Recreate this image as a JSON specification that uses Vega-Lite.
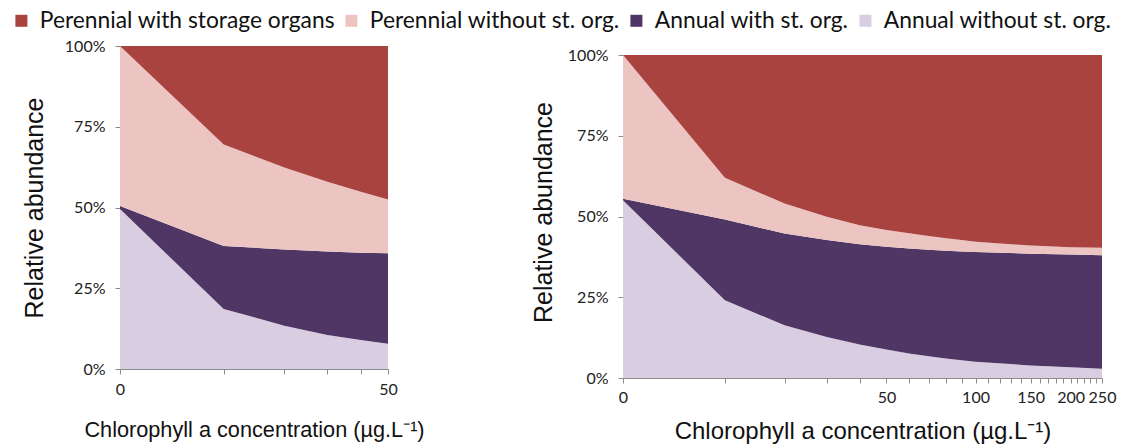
{
  "$schema": "https://vega.github.io/schema/vega-lite/v6.json",
  "padding": {"left": 10, "top": 9, "right": 5, "bottom": 5},
  "background": "white",
  "datasets": {
    "left": [
      {"x": 0, "g": "Annual without st. org.", "k": 1, "v": 49.5},
      {"x": 0, "g": "Annual with st. org.", "k": 2, "v": 1.0},
      {"x": 0, "g": "Perennial without st. org.", "k": 3, "v": 49.5},
      {"x": 0, "g": "Perennial with storage organs", "k": 4, "v": 0.0},
      {"x": 10, "g": "Annual without st. org.", "k": 1, "v": 18.6},
      {"x": 10, "g": "Annual with st. org.", "k": 2, "v": 19.5},
      {"x": 10, "g": "Perennial without st. org.", "k": 3, "v": 31.4},
      {"x": 10, "g": "Perennial with storage organs", "k": 4, "v": 30.5},
      {"x": 20, "g": "Annual without st. org.", "k": 1, "v": 13.4},
      {"x": 20, "g": "Annual with st. org.", "k": 2, "v": 23.6},
      {"x": 20, "g": "Perennial without st. org.", "k": 3, "v": 25.4},
      {"x": 20, "g": "Perennial with storage organs", "k": 4, "v": 37.6},
      {"x": 30, "g": "Annual without st. org.", "k": 1, "v": 10.5},
      {"x": 30, "g": "Annual with st. org.", "k": 2, "v": 25.9},
      {"x": 30, "g": "Perennial without st. org.", "k": 3, "v": 21.6},
      {"x": 30, "g": "Perennial with storage organs", "k": 4, "v": 42.0},
      {"x": 40, "g": "Annual without st. org.", "k": 1, "v": 9.0},
      {"x": 40, "g": "Annual with st. org.", "k": 2, "v": 27.0},
      {"x": 40, "g": "Perennial without st. org.", "k": 3, "v": 18.9},
      {"x": 40, "g": "Perennial with storage organs", "k": 4, "v": 45.1},
      {"x": 50, "g": "Annual without st. org.", "k": 1, "v": 7.8},
      {"x": 50, "g": "Annual with st. org.", "k": 2, "v": 28.0},
      {"x": 50, "g": "Perennial without st. org.", "k": 3, "v": 16.7},
      {"x": 50, "g": "Perennial with storage organs", "k": 4, "v": 47.5}
    ],
    "right": [
      {"x": 0, "g": "Annual without st. org.", "k": 1, "v": 55.0},
      {"x": 0, "g": "Annual with st. org.", "k": 2, "v": 0.5},
      {"x": 0, "g": "Perennial without st. org.", "k": 3, "v": 44.5},
      {"x": 0, "g": "Perennial with storage organs", "k": 4, "v": 0.0},
      {"x": 10, "g": "Annual without st. org.", "k": 1, "v": 24.1},
      {"x": 10, "g": "Annual with st. org.", "k": 2, "v": 25.0},
      {"x": 10, "g": "Perennial without st. org.", "k": 3, "v": 12.9},
      {"x": 10, "g": "Perennial with storage organs", "k": 4, "v": 38.0},
      {"x": 20, "g": "Annual without st. org.", "k": 1, "v": 16.3},
      {"x": 20, "g": "Annual with st. org.", "k": 2, "v": 28.4},
      {"x": 20, "g": "Perennial without st. org.", "k": 3, "v": 9.3},
      {"x": 20, "g": "Perennial with storage organs", "k": 4, "v": 46.0},
      {"x": 30, "g": "Annual without st. org.", "k": 1, "v": 12.7},
      {"x": 30, "g": "Annual with st. org.", "k": 2, "v": 30.0},
      {"x": 30, "g": "Perennial without st. org.", "k": 3, "v": 7.2},
      {"x": 30, "g": "Perennial with storage organs", "k": 4, "v": 50.1},
      {"x": 40, "g": "Annual without st. org.", "k": 1, "v": 10.4},
      {"x": 40, "g": "Annual with st. org.", "k": 2, "v": 31.0},
      {"x": 40, "g": "Perennial without st. org.", "k": 3, "v": 5.9},
      {"x": 40, "g": "Perennial with storage organs", "k": 4, "v": 52.7},
      {"x": 50, "g": "Annual without st. org.", "k": 1, "v": 8.8},
      {"x": 50, "g": "Annual with st. org.", "k": 2, "v": 31.8},
      {"x": 50, "g": "Perennial without st. org.", "k": 3, "v": 5.2},
      {"x": 50, "g": "Perennial with storage organs", "k": 4, "v": 54.2},
      {"x": 60, "g": "Annual without st. org.", "k": 1, "v": 7.6},
      {"x": 60, "g": "Annual with st. org.", "k": 2, "v": 32.5},
      {"x": 60, "g": "Perennial without st. org.", "k": 3, "v": 4.7},
      {"x": 60, "g": "Perennial with storage organs", "k": 4, "v": 55.2},
      {"x": 70, "g": "Annual without st. org.", "k": 1, "v": 6.7},
      {"x": 70, "g": "Annual with st. org.", "k": 2, "v": 33.0},
      {"x": 70, "g": "Perennial without st. org.", "k": 3, "v": 4.3},
      {"x": 70, "g": "Perennial with storage organs", "k": 4, "v": 56.0},
      {"x": 80, "g": "Annual without st. org.", "k": 1, "v": 6.0},
      {"x": 80, "g": "Annual with st. org.", "k": 2, "v": 33.4},
      {"x": 80, "g": "Perennial without st. org.", "k": 3, "v": 3.9},
      {"x": 80, "g": "Perennial with storage organs", "k": 4, "v": 56.7},
      {"x": 90, "g": "Annual without st. org.", "k": 1, "v": 5.5},
      {"x": 90, "g": "Annual with st. org.", "k": 2, "v": 33.7},
      {"x": 90, "g": "Perennial without st. org.", "k": 3, "v": 3.5},
      {"x": 90, "g": "Perennial with storage organs", "k": 4, "v": 57.3},
      {"x": 100, "g": "Annual without st. org.", "k": 1, "v": 5.0},
      {"x": 100, "g": "Annual with st. org.", "k": 2, "v": 34.0},
      {"x": 100, "g": "Perennial without st. org.", "k": 3, "v": 3.2},
      {"x": 100, "g": "Perennial with storage organs", "k": 4, "v": 57.8},
      {"x": 150, "g": "Annual without st. org.", "k": 1, "v": 3.9},
      {"x": 150, "g": "Annual with st. org.", "k": 2, "v": 34.6},
      {"x": 150, "g": "Perennial without st. org.", "k": 3, "v": 2.5},
      {"x": 150, "g": "Perennial with storage organs", "k": 4, "v": 59.0},
      {"x": 200, "g": "Annual without st. org.", "k": 1, "v": 3.3},
      {"x": 200, "g": "Annual with st. org.", "k": 2, "v": 34.9},
      {"x": 200, "g": "Perennial without st. org.", "k": 3, "v": 2.3},
      {"x": 200, "g": "Perennial with storage organs", "k": 4, "v": 59.5},
      {"x": 250, "g": "Annual without st. org.", "k": 1, "v": 2.9},
      {"x": 250, "g": "Annual with st. org.", "k": 2, "v": 35.1},
      {"x": 250, "g": "Perennial without st. org.", "k": 3, "v": 2.3},
      {"x": 250, "g": "Perennial with storage organs", "k": 4, "v": 59.7}
    ]
  },
  "config": {
    "view": {"stroke": null},
    "axis": {
      "grid": false,
      "domainColor": "#8c8c8c",
      "tickColor": "#8c8c8c",
      "tickSize": 5,
      "labelFont": "Lato",
      "labelFontSize": 16,
      "labelColor": "#222222",
      "titleFont": "Liberation Sans",
      "titleFontWeight": "normal",
      "titleColor": "#111111"
    },
    "legend": {
      "direction": "horizontal",
      "title": null,
      "symbolType": "square",
      "symbolSize": 144,
      "symbolStrokeWidth": 0,
      "labelFont": "Lato",
      "labelFontSize": 22.8,
      "labelColor": "#111111",
      "labelOffset": 7,
      "columnPadding": 5,
      "labelLimit": 400
    }
  },
  "bounds": "flush",
  "spacing": 235,
  "hconcat": [
    {
      "width": 268,
      "height": 323,
      "data": {"name": "left"},
      "mark": {"type": "area", "interpolate": "linear"},
      "encoding": {
        "x": {
          "field": "x", "type": "quantitative",
          "scale": {"type": "symlog", "constant": 10, "domain": [0, 50], "nice": false},
          "axis": {
            "values": [0, 10, 20, 30, 40, 50],
            "labelExpr": "datum.value == 0 || datum.value == 50 ? datum.label : ''",
            "labelFlush": false,
            "labelOverlap": false,
            "labelPadding": 7,
            "title": "Chlorophyll a concentration (µg.L⁻¹)",
            "titleFontSize": 21.7,
            "titlePadding": 22
          }
        },
        "y": {
          "field": "v", "type": "quantitative", "stack": "normalize",
          "scale": {"domain": [0, 1], "nice": false},
          "axis": {
            "values": [0, 0.25, 0.5, 0.75, 1],
            "format": ".0%",
            "labelPadding": 10,
            "title": "Relative abundance",
            "titleFontSize": 25,
            "titlePadding": 17
          }
        },
        "color": {
          "field": "g", "type": "nominal",
          "scale": {
            "domain": ["Perennial with storage organs", "Perennial without st. org.", "Annual with st. org.", "Annual without st. org."],
            "range": ["#a8433f", "#ecc5c3", "#4f3664", "#d9cde2"]
          },
          "legend": {"orient": "none", "legendX": -110, "legendY": -37}
        },
        "order": {"field": "k", "type": "quantitative"}
      }
    },
    {
      "width": 479,
      "height": 332,
      "data": {"name": "right"},
      "mark": {"type": "area", "interpolate": "linear"},
      "encoding": {
        "x": {
          "field": "x", "type": "quantitative",
          "scale": {"type": "symlog", "constant": 10, "domain": [0, 250], "nice": false},
          "axis": {
            "values": [0, 10, 20, 30, 40, 50, 60, 70, 80, 90, 100, 110, 120, 130, 140, 150, 160, 170, 180, 190, 200, 210, 220, 230, 240, 250],
            "labelExpr": "indexof([0, 50, 100, 150, 200, 250], datum.value) >= 0 ? datum.label : ''",
            "labelFlush": false,
            "labelOverlap": false,
            "labelPadding": 6,
            "title": "Chlorophyll a concentration (µg.L⁻¹)",
            "titleFontSize": 24,
            "titlePadding": 14
          }
        },
        "y": {
          "field": "v", "type": "quantitative", "stack": "normalize",
          "scale": {"domain": [0, 1.0279], "nice": false},
          "axis": {
            "values": [0, 0.25, 0.5, 0.75, 1],
            "format": ".0%",
            "domain": false,
            "labelPadding": 10,
            "title": "Relative abundance",
            "titleFontSize": 25,
            "titlePadding": 11
          }
        },
        "color": {
          "field": "g", "type": "nominal",
          "scale": {
            "domain": ["Perennial with storage organs", "Perennial without st. org.", "Annual with st. org.", "Annual without st. org."],
            "range": ["#a8433f", "#ecc5c3", "#4f3664", "#d9cde2"]
          },
          "legend": {"orient": "none", "legendX": -110, "legendY": -37}
        },
        "order": {"field": "k", "type": "quantitative"}
      }
    }
  ]
}
